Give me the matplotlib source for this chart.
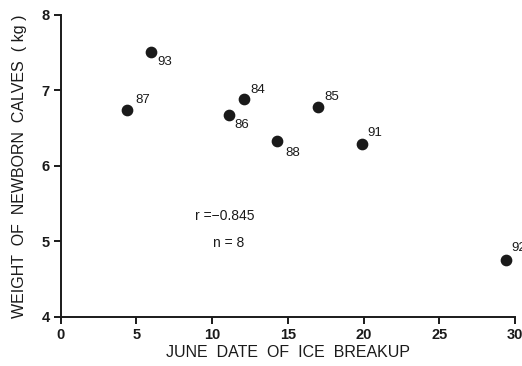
import matplotlib
matplotlib.use('Agg')
import matplotlib.pyplot as plt

plt.rcParams['font.family'] = ['Liberation Sans', 'DejaVu Sans']

# data
dates = [4.4, 5.95, 11.1, 12.1, 14.3, 17.0, 19.9, 29.4]
weights = [6.74, 7.51, 6.67, 6.89, 6.33, 6.78, 6.29, 4.75]
years = ['87', '93', '86', '84', '88', '85', '91', '92']
# label offset in pixels (dx, dy) for each year
offsets = [(15, 10), (14, -10), (13, -10), (14, 9), (15, -12), (14, 10), (13, 11), (13, 12)]

fig = plt.figure(figsize=(5.22, 3.66), dpi=100)
ax = fig.add_axes([0.1163, 0.134, 0.8703, 0.826])

ax.scatter(dates, weights, s=55, color='#1a1a1a', zorder=3, clip_on=False)
for x, y, lab, off in zip(dates, weights, years, offsets):
    ax.annotate(lab, (x, y), xytext=off, textcoords='offset pixels',
                ha='center', va='center', fontsize=9.5, color='#1a1a1a')

ax.text(10.8, 5.34, 'r =\u22120.845', ha='center', va='center', fontsize=10, color='#1a1a1a')
ax.text(11.1, 4.98, 'n = 8', ha='center', va='center', fontsize=10, color='#1a1a1a')

ax.set_xlim(0, 30)
ax.set_ylim(4, 8)
ax.set_xticks([0, 5, 10, 15, 20, 25, 30])
ax.set_yticks([4, 5, 6, 7, 8])
for s in ['top', 'right']:
    ax.spines[s].set_visible(False)
for s in ['left', 'bottom']:
    ax.spines[s].set_linewidth(1.4)
    ax.spines[s].set_color('#1a1a1a')
ax.tick_params(direction='out', length=5, width=1.4, color='#1a1a1a',
               labelsize=10.5, labelcolor='#1a1a1a', pad=3)
for t in ax.get_xticklabels() + ax.get_yticklabels():
    t.set_fontweight('bold')

ax.set_xlabel('JUNE  DATE  OF  ICE  BREAKUP', fontsize=11.5, color='#1a1a1a', labelpad=2)
ax.set_ylabel('WEIGHT  OF  NEWBORN  CALVES  ( kg )', fontsize=11.5, color='#1a1a1a', labelpad=10)

fig.savefig('out.png', dpi=100)
